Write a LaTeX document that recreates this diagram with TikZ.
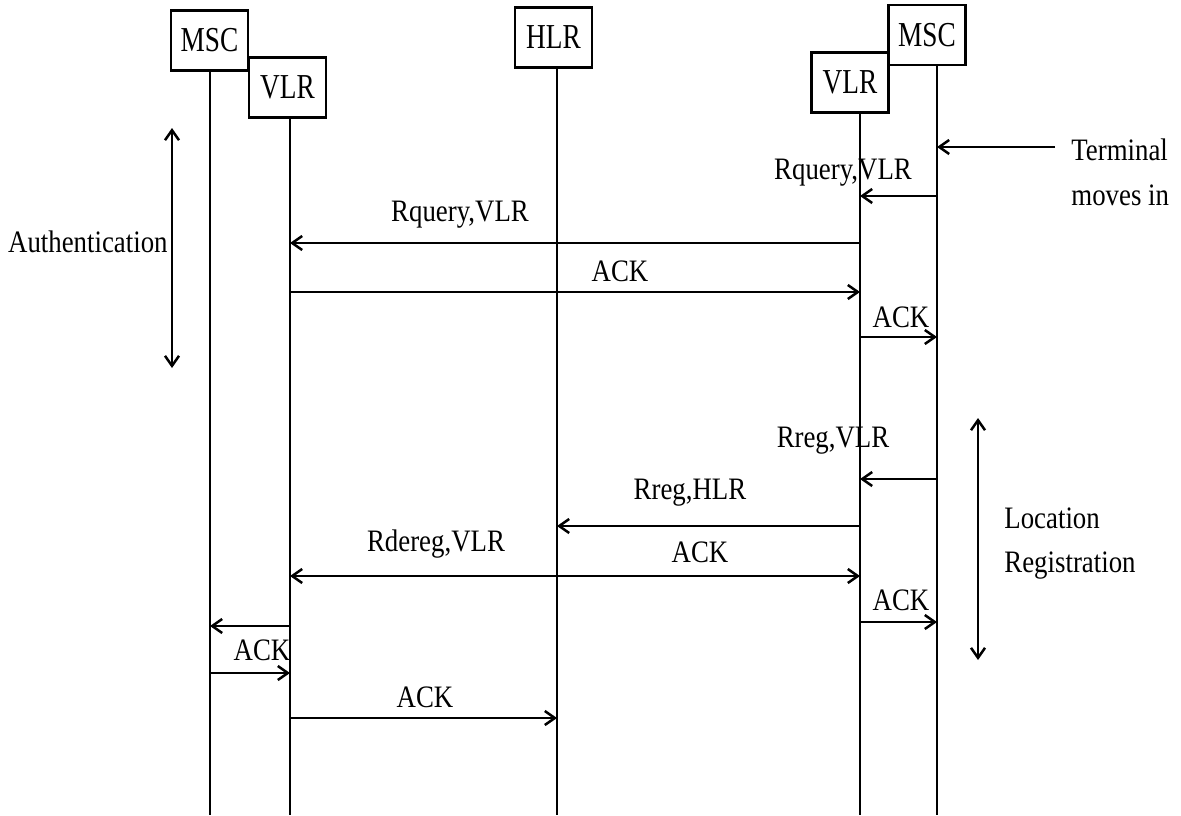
\documentclass[tikz,border=0pt]{standalone}
\usepackage{fontspec}
\setmainfont{Liberation Serif}
\newfontfamily\labelfont[FakeStretch=0.86]{Liberation Serif}
\newfontfamily\boxfont[FakeStretch=0.78]{Liberation Serif}
\usetikzlibrary{arrows.meta}

\tikzset{
  entity/.style={draw, line width=1.4pt, minimum width=38.5pt, minimum height=30pt,
    inner sep=0pt, font=\boxfont\fontsize{17.5}{20}\selectfont},
  lifeline/.style={line width=1.25pt},
  msg/.style={line width=1.25pt, -{Straight Barb[length=5pt,width=7pt]}},
  span/.style={line width=1.25pt, {Straight Barb[length=5pt,width=7pt]}-{Straight Barb[length=5pt,width=7pt]}},
  lbl/.style={font=\labelfont\fontsize{15.6}{18}\selectfont, inner sep=0pt},
}

\begin{document}
\begin{tikzpicture}[x=0.5pt, y=-0.5pt]
  \useasboundingbox (0,0) rectangle (1181,815);

  % Les boites
  \node[entity] (mscA) at (209.5,40.5) {MSC};
  \node[entity] (vlrA) at (287.5,87.5) {VLR};
  \node[entity] (hlr)  at (553.5,37.5) {HLR};
  \node[entity] (vlrB) at (850,82.5)   {VLR};
  \node[entity] (mscB) at (927,35)     {MSC};

  % Les lignes de vie
  \coordinate (mA) at (210,815);
  \coordinate (vA) at (290,815);
  \coordinate (hL) at (557,815);
  \coordinate (vB) at (860,815);
  \coordinate (mB) at (937,815);
  \draw[lifeline] (mscA.south -| mA) -- (mA);
  \draw[lifeline] (vlrA.south -| vA) -- (vA);
  \draw[lifeline] (hlr.south -| hL) -- (hL);
  \draw[lifeline] (vlrB.south -| vB) -- (vB);
  \draw[lifeline] (mscB.south -| mB) -- (mB);

  % Authentication
  \coordinate (term) at (1055,147);
  \draw[msg] (term) -- (mB |- term);
  \draw[msg] (mB |- 0,196) -- (vB |- 0,196);
  \draw[msg] (vB |- 0,243) -- (vA |- 0,243);
  \draw[msg] (vA |- 0,292) -- (vB |- 0,292);
  \draw[msg] (vB |- 0,337) -- (mB |- 0,337);

  % Location registration
  \draw[msg] (mB |- 0,479) -- (vB |- 0,479);
  \draw[msg] (vB |- 0,526) -- (hL |- 0,526);
  \draw[msg] (hL |- 0,576) -- (vA |- 0,576);
  \draw[msg] (hL |- 0,576) -- (vB |- 0,576);
  \draw[msg] (vB |- 0,622) -- (mB |- 0,622);
  \draw[msg] (vA |- 0,626) -- (mA |- 0,626);
  \draw[msg] (mA |- 0,673) -- (vA |- 0,673);
  \draw[msg] (vA |- 0,718) -- (hL |- 0,718);

  % Les fleches doubles
  \coordinate (authTop) at (172,128);
  \coordinate (authBot) at (172,368);
  \draw[span] (authTop) -- (authBot);
  \coordinate (locTop) at (978,418);
  \coordinate (locBot) at (978,660);
  \draw[span] (locTop) -- (locBot);

  % Les textes
  \node[lbl] (rqB)   at (843,173) {Rquery,VLR};
  \node[lbl] (rqA)   at (460,215) {Rquery,VLR};
  \node[lbl] (ack1)  at (620,271) {ACK};
  \node[lbl] (ack2)  at (901,317) {ACK};
  \node[lbl] (rregV) at (833,441) {Rreg,VLR};
  \node[lbl] (rregH) at (690,493) {Rreg,HLR};
  \node[lbl] (rdereg) at (436,544) {Rdereg,VLR};
  \node[lbl] (ack3)  at (700,552) {ACK};
  \node[lbl] (ack4)  at (901,600) {ACK};
  \node[lbl] (ack5)  at (262,650) {ACK};
  \node[lbl] (ack6)  at (425,697) {ACK};
  \node[lbl, anchor=east] (auth) at (168,242) {Authentication};
  \node[lbl, anchor=west] (termA) at (1071,150) {Terminal};
  \node[lbl, anchor=west] (termB) at (1071,195) {moves in};
  \node[lbl, anchor=west] (locA) at (1004,518) {Location};
  \node[lbl, anchor=west] (locB) at (1004,566) {Registration};
\end{tikzpicture}
\end{document}
